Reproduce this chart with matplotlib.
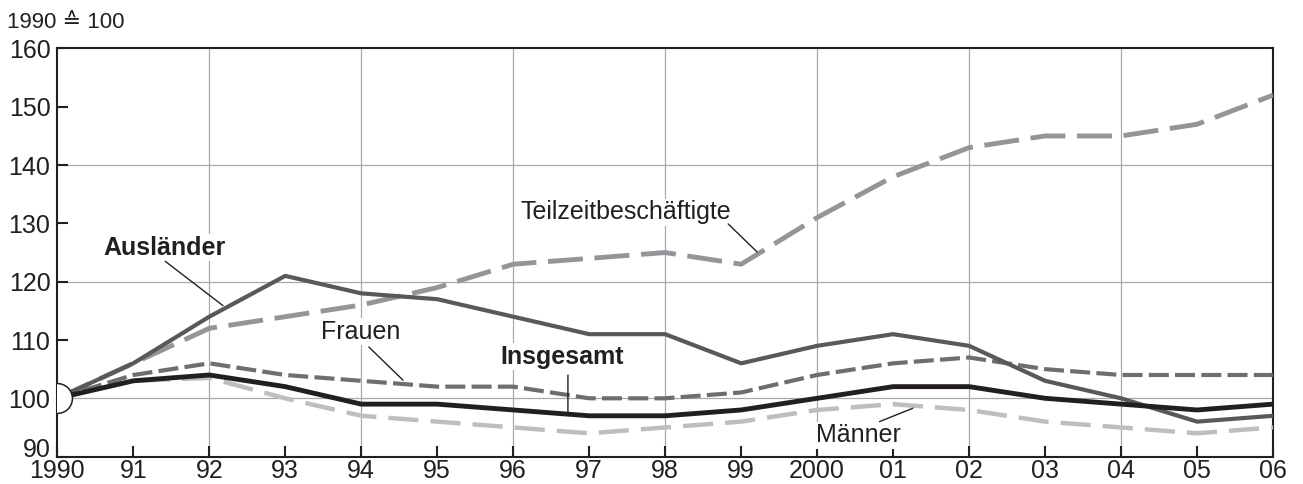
import matplotlib
matplotlib.use('Agg')
import matplotlib.pyplot as plt
import matplotlib.transforms as mtransforms

plt.rcParams['font.family'] = ['Liberation Sans', 'DejaVu Sans']

years = list(range(1990, 2007))
year_labels = ['1990', '91', '92', '93', '94', '95', '96', '97', '98', '99',
               '2000', '01', '02', '03', '04', '05', '06']
base = 100

insgesamt = [100, 103, 104, 102, 99, 99, 98, 97, 97, 98, 100, 102, 102, 100, 99, 98, 99]
auslaender = [100, 106, 114, 121, 118, 117, 114, 111, 111, 106, 109, 111, 109, 103, 100, 96, 97]
frauen = [100, 104, 106, 104, 103, 102, 102, 100, 100, 101, 104, 106, 107, 105, 104, 104, 104]
maenner = [100, 103, 103.5, 100, 97, 96, 95, 94, 95, 96, 98, 99, 98, 96, 95, 94, 95]
teilzeit = [100, 106, 112, 114, 116, 119, 123, 124, 125, 123, 131, 138, 143, 145, 145, 147, 152]

y_ticks = [90, 100, 110, 120, 130, 140, 150, 160]
y_grid = [100, 120, 140]

fig = plt.figure(figsize=(13.03, 4.84), dpi=100)
ax = fig.add_axes([0.044, 0.0566, 0.933, 0.8432])

# grid lines
for y in y_grid:
    ax.axhline(y, color='#a7a9ac', lw=0.9, zorder=1)
for x in years[2::2]:
    ax.axvline(x, color='#a7a9ac', lw=0.9, zorder=1)

# series
ax.plot(years, teilzeit, color='#939598', lw=3.5, dashes=(7.2, 2.4), zorder=3)
ax.plot(years, maenner, color='#bcbec0', lw=3.2, dashes=(6.8, 2.7), zorder=3)
ax.plot(years, frauen, color='#6d6e71', lw=3.0, dashes=(4.8, 1.5), zorder=4)
ax.plot(years, auslaender, color='#58595b', lw=3.0, zorder=5)
ax.plot(years, insgesamt, color='#231f20', lw=3.5, zorder=6)

# index circle at base year
ax.plot([years[0]], [base], marker='o', markersize=21.5, markerfacecolor='white',
        markeredgecolor='#231f20', markeredgewidth=1.1, zorder=7, clip_on=True)

ax.set_xlim(years[0], years[-1])
ax.set_ylim(y_ticks[0], y_ticks[-1])
ax.set_xticks(years)
ax.set_xticklabels(year_labels)
ax.set_yticks(y_ticks)
ax.tick_params(axis='both', direction='in', length=8, width=1.5, color='#231f20',
               labelsize=18, labelcolor='#231f20')
ax.tick_params(axis='x', pad=2)
ax.tick_params(axis='y', pad=5)
for s in ax.spines.values():
    s.set_linewidth(1.5)
    s.set_color('#231f20')

# nudge the lowest y label up so it clears the year labels
lbl = ax.get_yticklabels()[0]
lbl.set_transform(lbl.get_transform() + mtransforms.ScaledTranslation(0, 9 / 100, fig.dpi_scale_trans))

# labels with leader lines
box = dict(facecolor='white', edgecolor='none', pad=1)
labels = [
    ('Ausländer', 'bold', (1991.41, 125.8), (1991.42, 123.5), (1992.18, 115.9)),
    ('Frauen', 'normal', (1993.99, 111.4), (1994.10, 108.8), (1994.55, 103.1)),
    ('Insgesamt', 'bold', (1996.64, 107.1), (1996.72, 104.0), (1996.72, 97.65)),
    ('Männer', 'normal', (2000.54, 93.7), (2000.82, 96.0), (2001.26, 98.3)),
    ('Teilzeitbeschäftigte', 'normal', (1997.48, 131.9), (1998.83, 129.9), (1999.21, 125.1)),
]
for text, weight, pos, start, end in labels:
    ax.text(pos[0], pos[1], text, fontsize=18, fontweight=weight, color='#231f20',
            ha='center', va='center', bbox=box, zorder=8)
    ax.annotate('', xy=end, xytext=start,
                arrowprops=dict(arrowstyle='-', color='#231f20', lw=1.0,
                                shrinkA=0, shrinkB=0), zorder=8)

fig.text(0.0054, 0.9545, '1990 ≙ 100', fontsize=16, color='#231f20',
         ha='left', va='center')

fig.savefig('out.png', dpi=100)
